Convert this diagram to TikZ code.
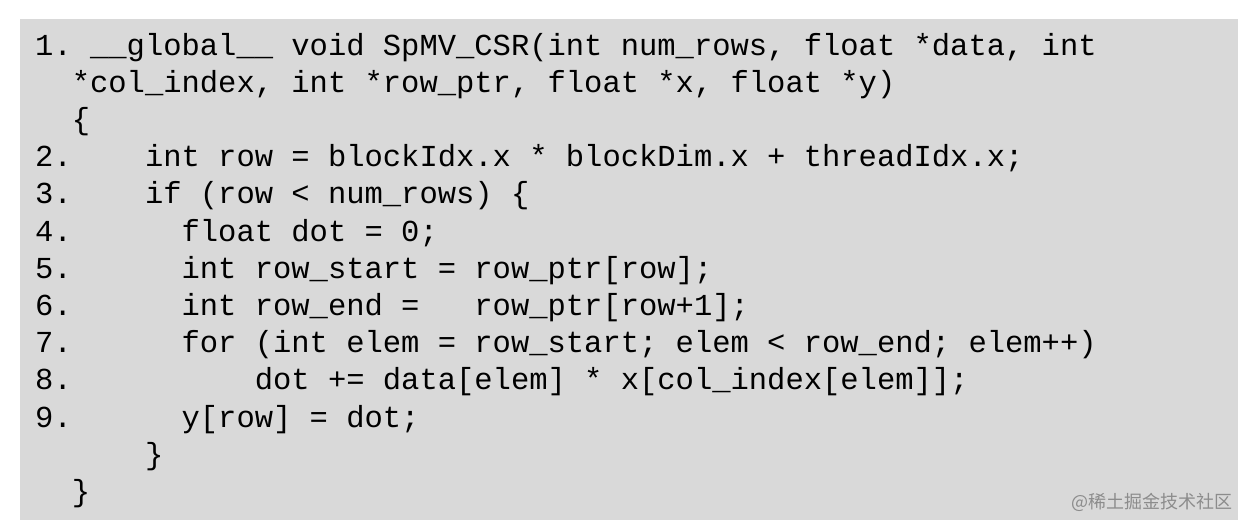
\documentclass[tikz,border=0pt]{standalone}
\usepackage{fontspec}
\setmonofont{Liberation Mono}
\newfontfamily\cjk{Noto Sans CJK SC}
\definecolor{bg}{HTML}{D9D9D9}
\begin{document}
\begin{tikzpicture}[x=1pt,y=-1pt,
  code/.style={anchor=base west,inner sep=0pt,font=\fontsize{30.5}{36}\ttfamily}]
\useasboundingbox (0,0) rectangle (1250,530);
\fill[bg] (20,19) rectangle (1238,520);
\def\cw{18.3}
\def\ls{37.2}
\foreach \i/\c/\t in {
 0/0/{1.~\_\_global\_\_~void~SpMV\_CSR(int~num\_rows,~float~*data,~int},
 1/2/{*col\_index,~int~*row\_ptr,~float~*x,~float~*y)},
 2/2/{\{},
 3/0/{2.~~~~int~row~=~blockIdx.x~*~blockDim.x~+~threadIdx.x;},
 4/0/{3.~~~~if~(row~<~num\_rows)~\{},
 5/0/{4.~~~~~~float~dot~=~0;},
 6/0/{5.~~~~~~int~row\_start~=~row\_ptr[row];},
 7/0/{6.~~~~~~int~row\_end~=~~~row\_ptr[row+1];},
 8/0/{7.~~~~~~for~(int~elem~=~row\_start;~elem~<~row\_end;~elem++)},
 9/0/{8.~~~~~~~~~~dot~+=~data[elem]~*~x[col\_index[elem]];},
 10/0/{9.~~~~~~y[row]~=~dot;},
 11/6/{\}},
 12/2/{\}}}
 \node[code] (l\i) at ({35+\c*\cw},{55+\i*\ls}) {\t};
\node[anchor=east,inner sep=0pt,text=gray!90,font=\cjk\fontsize{18}{20}\selectfont] (wm) at (1233,502) {@稀土掘金技术社区};
\end{tikzpicture}
\end{document}
